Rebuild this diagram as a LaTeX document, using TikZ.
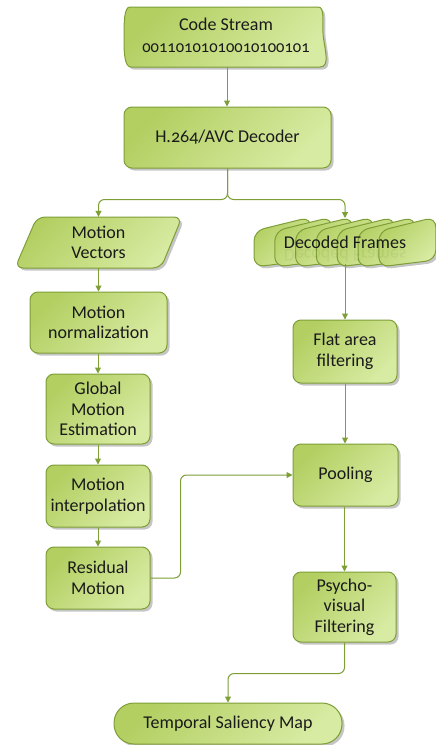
\documentclass[tikz,border=0pt]{standalone}
\usepackage{fontspec}
\setmainfont[Numbers=OldStyle]{Carlito}
\usetikzlibrary{arrows.meta,shadows,calc}
\definecolor{gDark}{HTML}{B3CF62}
\definecolor{gLight}{HTML}{D8EBA3}
\definecolor{gLine}{HTML}{7E9E36}
\definecolor{txt}{HTML}{1A1A1A}
\begin{document}
\begin{tikzpicture}[x=1pt,y=-1pt,
  shapefill/.style={draw=gLine, line width=1pt, top color=gDark, bottom color=gLight, shading angle=45,
    drop shadow={shadow xshift=2.5pt,shadow yshift=-2.5pt,fill=black!45,opacity=.5}},
  box/.style={shapefill, rounded corners=8pt, text=txt, align=center,
    font=\fontsize{18}{20.5}\selectfont, inner sep=0pt},
  lbl/.style={text=txt, align=center, font=\fontsize{18}{20.5}\selectfont, inner sep=0pt},
  conn/.style={draw=gLine, line width=1pt, rounded corners=6pt, -{Triangle[length=6pt,width=6pt]}}
]
\useasboundingbox (0,0) rectangle (436,745);

% Code Stream
\path[shapefill] (130,7) -- (318,7) .. controls (325,7) and (322,20) .. (323,33)
  .. controls (324,48) and (331,67) .. (320,67) -- (131,67)
  .. controls (125,67) and (124,55) .. (124,40) .. controls (124,22) and (124,7) .. (130,7) -- cycle;
\node[inner sep=0, minimum width=200pt, minimum height=60pt] (cs) at (227,37) {};
\node[lbl, anchor=base] (cst) at (226,30) {Code Stream};
\node[lbl, anchor=base, font=\fontsize{16.5}{18}\selectfont] (csd) at (226,52) {00110101010010100101};

% Decoder
\node[box, minimum width=207pt, minimum height=61pt] (dec) at (227.5,137.5) {H.264/AVC Decoder};

% Motion vectors (parallelogram)
\path[shapefill, rounded corners=8pt] (37,217) -- (182,217) -- (161,268) -- (15,268) -- cycle;
\node[lbl, minimum width=140pt, minimum height=51pt] (mv) at (98.5,242.5) {Motion\\Vectors};

% Left column
\node[box, minimum width=137pt, minimum height=61pt] (mn) at (98.5,322.5) {Motion\\normalization};
\node[box, minimum width=104pt, minimum height=70pt] (gme) at (98,409) {Global\\Motion\\Estimation};
\node[box, minimum width=104pt, minimum height=62pt] (mi) at (98,496) {Motion\\interpolation};
\node[box, minimum width=104pt, minimum height=62pt] (rm) at (98,578) {Residual\\Motion};

% Decoded frames
\foreach \i in {0,...,6}{
  \pgfmathsetmacro{\xo}{254+20.8*\i}
  \path[shapefill, rounded corners=10pt] (\xo,231) -- (\xo+57,217) -- (\xo+57,260) -- (\xo,267) -- cycle;
}
\node[lbl] (df) at (345,242) {Decoded Frames};
\node[lbl, opacity=.06, anchor=north] (dfr) at (345,249) {\scalebox{1}[-1]{Decoded Frames}};
\coordinate (dfin) at (345,218);
\coordinate (dfout) at (345,264);

% Right column
\node[box, minimum width=104pt, minimum height=63pt] (faf) at (345,351.5) {Flat area\\filtering};
\node[box, minimum width=105pt, minimum height=62pt] (pool) at (345.5,475) {Pooling};
\node[box, minimum width=103pt, minimum height=70pt] (psy) at (344.5,607) {Psycho-\\visual\\Filtering};

% Temporal saliency map
\node[box, rounded corners=20pt, minimum width=228pt, minimum height=41pt] (tsm) at (228,723.5) {Temporal Saliency Map};

% Connectors
\draw[conn] (cs.south) -- (cs.south |- dec.north);
\draw[conn] (dec.south) -- ++(0,31) -| (mv.north);
\draw[conn] (dec.south) -- ++(0,31) -| (dfin);
\draw[conn] (mv.south) -- (mn.north -| mv.south);
\draw[conn] (mn.south -| gme.north) -- (gme.north);
\draw[conn] (gme.south) -- (mi.north);
\draw[conn] (mi.south) -- (rm.north);
\draw[conn] (dfout) -- (faf.north);
\draw[conn] (faf.south) -- (pool.north -| faf.south);
\draw[conn] (rm.east) -- ++(30,0) |- (pool.west);
\draw[conn] (pool.south -| psy.north) -- (psy.north);
\draw[conn] (psy.south) -- ++(0,31) -| (tsm.north);
\end{tikzpicture}
\end{document}
